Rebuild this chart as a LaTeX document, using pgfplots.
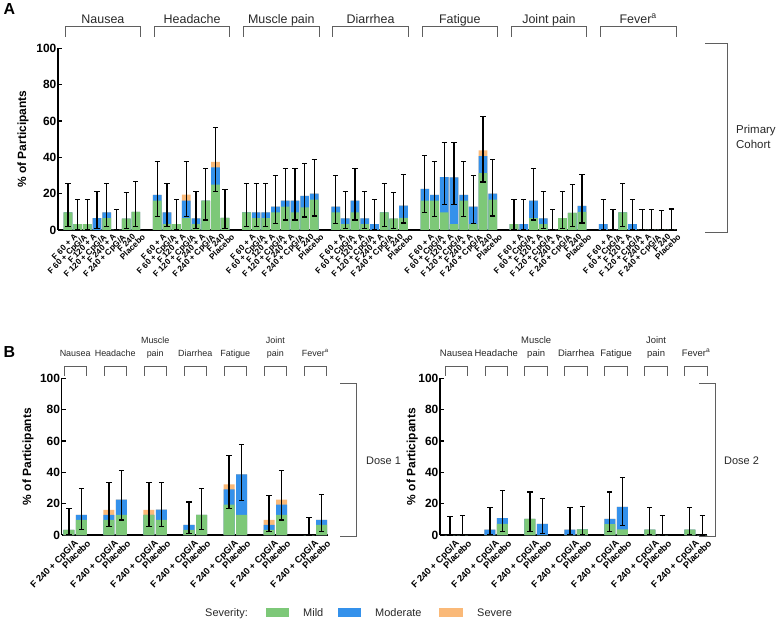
\documentclass[border=0pt]{standalone}
\usepackage{fontspec}
\setmainfont{Liberation Sans}
\usepackage{pgfplots}
\usepackage{pgfplotstable}
\pgfplotsset{compat=1.18}
\definecolor{mild}{RGB}{125,200,120}
\definecolor{modc}{RGB}{52,145,235}
\definecolor{sevc}{RGB}{250,185,120}
\definecolor{brk}{RGB}{95,95,95}
\definecolor{txt}{RGB}{40,40,40}

% x  mild moderate severe  CI-low CI-high
\pgfplotstableread{
x m d s lo hi
0 9.7 0 0 2.0 25.8
1 3.2 0 0 0.1 16.7
2 3.2 0 0 0.1 16.7
3 0 6.5 0 0.8 21.4
4 6.5 3.2 0 2.0 25.8
5 0 0 0 0 11.2
6 6.3 0 0 0.8 20.8
7 10.0 0 0 2.1 26.5
9.2 16.1 3.2 0 7.5 37.5
10.2 3.2 6.5 0 2.0 25.8
11.2 3.2 0 0 0.1 16.7
12.2 6.5 9.7 3.2 7.5 37.5
13.2 3.2 3.2 0 0.8 21.4
14.2 16.1 0 0 5.5 33.7
15.2 25.0 9.4 3.1 21.1 56.3
16.2 6.7 0 0 0.8 22.1
18.4 9.7 0 0 2.0 25.8
19.4 6.5 3.2 0 2.0 25.8
20.4 6.5 3.2 0 2.0 25.8
21.4 9.7 3.2 0 3.6 29.8
22.4 12.9 3.2 0 5.5 33.7
23.4 9.7 6.5 0 5.5 33.7
24.4 12.5 6.3 0 7.2 36.4
25.4 16.7 3.3 0 7.7 38.6
27.6 9.7 3.2 0 3.6 29.8
28.6 3.2 3.2 0 0.8 21.4
29.6 9.7 6.5 0 5.5 33.7
30.6 3.2 3.2 0 0.8 21.4
31.6 0 3.2 0 0.1 16.7
32.6 9.7 0 0 2.0 25.8
33.6 6.3 0 0 0.8 20.8
34.6 6.7 6.7 0 3.8 30.7
36.8 16.1 6.5 0 9.6 41.1
37.8 16.1 3.2 0 7.5 37.5
38.8 9.7 19.4 0 14.2 48.0
39.8 3.2 25.8 0 14.2 48.0
40.8 16.1 3.2 0 7.5 37.5
41.8 3.2 9.7 0 3.6 29.8
42.8 31.3 9.4 3.1 26.4 62.3
43.8 16.7 3.3 0 7.7 38.6
46.0 3.2 0 0 0.1 16.7
47.0 0 3.2 0 0.1 16.7
48.0 6.5 9.7 0 5.5 33.7
49.0 3.2 3.2 0 0.8 21.4
50.0 0 0 0 0 11.2
51.0 6.5 0 0 0.8 21.4
52.0 9.4 0 0 2.0 25.0
53.0 10.0 3.3 0 3.8 30.7
55.2 0 3.2 0 0.1 16.7
56.2 0 0 0 0 11.2
57.2 9.7 0 0 2.0 25.8
58.2 0 3.2 0 0.1 16.7
59.2 0 0 0 0 11.2
60.2 0 0 0 0 11.2
61.2 0 0 0 0 10.9
62.2 0 0 0 0 11.6
}\tabA

\pgfplotstableread{
x m d s lo hi
0 3.2 0 0 0.1 16.7
1 9.7 3.2 0 3.6 29.8
3.2 9.7 3.2 3.2 5.5 33.7
4.2 12.9 9.7 0 9.6 41.1
6.4 12.9 0 3.2 5.5 33.7
7.4 9.7 6.5 0 5.5 33.7
9.6 3.2 3.2 0 0.8 21.0
10.6 12.9 0 0 3.6 29.8
12.8 19.4 9.7 3.2 16.7 50.5
13.8 12.9 25.8 0 21.8 57.8
16.0 3.2 3.2 3.2 2.0 25.3
17.0 12.9 6.5 3.2 9.6 41.1
19.2 0 0 0 0 11.2
20.2 6.5 3.2 0 2.0 25.8
}\tabB

\pgfplotstableread{
x m d s lo hi
0 0 0 0 0 11.9
1 0 0 0 0 12.3
3.2 0 3.4 0 0.1 17.8
4.2 7.1 3.6 0 2.3 28.2
6.4 10.3 0 0 2.2 27.4
7.4 0 7.1 0 0.9 23.5
9.6 0 3.4 0 0.1 17.8
10.6 3.6 0 0 0.1 18.3
12.8 6.9 3.4 0 2.2 27.4
13.8 3.6 14.3 0 6.1 36.9
16.0 3.4 0 0 0.1 17.8
17.0 0 0 0 0 12.3
19.2 3.4 0 0 0.1 17.8
20.2 0 0 0 0 12.3
}\tabC

\pgfplotsset{
  sevbase/.style={
    scale only axis, anchor=south west, ybar, clip=false,
    ymin=0, ymax=100, ytick={0,20,40,60,80,100},
    enlargelimits=false,
    axis x line*=bottom, axis y line*=left,
    axis line style={line width=1.1pt, -, black},
    ytick style={line width=1.1pt, black},
    major tick length=4bp,
    xtick style={draw=none},
    /pgf/number format/assume math mode=true,
    yticklabel style={font=\bfseries\fontsize{12}{14}\selectfont, inner sep=1.5pt},
    ylabel={\% of Participants},
    ylabel style={font=\bfseries\fontsize{12}{14}\selectfont, anchor=center},
    xtick=data,
    xticklabel style={rotate=45, anchor=north east, inner sep=0.5pt, text=black},
  },
  mildbar/.style={fill=mild, draw=none, bar shift=0pt},
  modbar/.style={fill=modc, draw=none, bar shift=0pt},
  sevbar/.style={fill=sevc, draw=none, bar shift=0pt},
  errbar/.style={fill=none, draw opacity=0, bar shift=0pt,
    error bars/.cd, y dir=both, y explicit,
    error bar style={line width=1.2pt, draw=black, draw opacity=1},
    error mark options={line width=1.2pt, mark size=2.6bp, draw=black, draw opacity=1, rotate=90}},
}

\newcommand{\plotall}[1]{%
  \addplot[sevbar] table[x=x, y expr=\thisrow{m}+\thisrow{d}+\thisrow{s}] {#1};
  \addplot[modbar] table[x=x, y expr=\thisrow{m}+\thisrow{d}] {#1};
  \addplot[mildbar] table[x=x, y=m] {#1};
  \addplot[errbar] table[x=x, y expr=\thisrow{m}+\thisrow{d}+\thisrow{s},
     y error plus expr=\thisrow{hi}-\thisrow{m}-\thisrow{d}-\thisrow{s},
     y error minus expr=\thisrow{m}+\thisrow{d}+\thisrow{s}-\thisrow{lo}] {#1};
}

\begin{document}
\begin{tikzpicture}
\useasboundingbox (0bp,0bp) rectangle (777bp,620bp);

% ---------------- Panel A ----------------
\begin{axis}[sevbase,
  at={(58bp,390bp)}, width=619bp, height=181.7bp,
  xmin=-1.03, xmax=62.8, bar width=0.9,
  ylabel style={at={(axis description cs:0,0.5)}, yshift=35bp},
  xticklabel style={font=\bfseries\fontsize{8.3}{9}\selectfont, yshift=-3bp, xshift=5bp},
  xticklabels={F 60 + A, F 60 + CpG/A, F 120 + A, F 120 + CpG/A, F 240 + A, F 240 + CpG/A, F 240, Placebo,
                F 60 + A, F 60 + CpG/A, F 120 + A, F 120 + CpG/A, F 240 + A, F 240 + CpG/A, F 240, Placebo,
                F 60 + A, F 60 + CpG/A, F 120 + A, F 120 + CpG/A, F 240 + A, F 240 + CpG/A, F 240, Placebo,
                F 60 + A, F 60 + CpG/A, F 120 + A, F 120 + CpG/A, F 240 + A, F 240 + CpG/A, F 240, Placebo,
                F 60 + A, F 60 + CpG/A, F 120 + A, F 120 + CpG/A, F 240 + A, F 240 + CpG/A, F 240, Placebo,
                F 60 + A, F 60 + CpG/A, F 120 + A, F 120 + CpG/A, F 240 + A, F 240 + CpG/A, F 240, Placebo,
                F 60 + A, F 60 + CpG/A, F 120 + A, F 120 + CpG/A, F 240 + A, F 240 + CpG/A, F 240, Placebo},
]
\plotall{\tabA}
\begin{scope}[brk, line width=0.9pt]
\draw (axis cs:-0.3,106.4) -- (axis cs:-0.3,111.9) -- (axis cs:7.5,111.9) -- (axis cs:7.5,106.4);
\draw (axis cs:8.9,106.4) -- (axis cs:8.9,111.9) -- (axis cs:16.7,111.9) -- (axis cs:16.7,106.4);
\draw (axis cs:18.1,106.4) -- (axis cs:18.1,111.9) -- (axis cs:25.9,111.9) -- (axis cs:25.9,106.4);
\draw (axis cs:27.3,106.4) -- (axis cs:27.3,111.9) -- (axis cs:35.1,111.9) -- (axis cs:35.1,106.4);
\draw (axis cs:36.5,106.4) -- (axis cs:36.5,111.9) -- (axis cs:44.3,111.9) -- (axis cs:44.3,106.4);
\draw (axis cs:45.7,106.4) -- (axis cs:45.7,111.9) -- (axis cs:53.5,111.9) -- (axis cs:53.5,106.4);
\draw (axis cs:54.9,106.4) -- (axis cs:54.9,111.9) -- (axis cs:62.7,111.9) -- (axis cs:62.7,106.4);
\end{scope}
\begin{scope}[every node/.style={anchor=base, text=txt, font=\fontsize{12.5}{14}\selectfont}]
\node at (axis cs:3.6,113.8) {Nausea};
\node at (axis cs:12.8,113.8) {Headache};
\node at (axis cs:22.0,113.8) {Muscle pain};
\node at (axis cs:31.2,113.8) {Diarrhea};
\node at (axis cs:40.4,113.8) {Fatigue};
\node at (axis cs:49.6,113.8) {Joint pain};
\node at (axis cs:58.8,113.8) {Fever\textsuperscript{a}};
\end{scope}
\end{axis}

% ---------------- Panel B, Dose 1 ----------------
\begin{axis}[sevbase,
  at={(61.7bp,85bp)}, width=266.6bp, height=156.7bp,
  xmin=-0.58, xmax=20.74, bar width=0.88,
  ylabel style={at={(axis description cs:0,0.5)}, yshift=33.7bp},
  xticklabel style={font=\bfseries\fontsize{9.3}{10}\selectfont, yshift=-3bp, xshift=4bp},
  xticklabels={F 240 + CpG/A, Placebo, F 240 + CpG/A, Placebo, F 240 + CpG/A, Placebo, F 240 + CpG/A, Placebo,
               F 240 + CpG/A, Placebo, F 240 + CpG/A, Placebo, F 240 + CpG/A, Placebo},
]
\plotall{\tabB}
\begin{scope}[brk, line width=0.9pt]
\draw (axis cs:-0.4,101.5) -- (axis cs:-0.4,107.4) -- (axis cs:1.4,107.4) -- (axis cs:1.4,101.5);
\draw (axis cs:2.8,101.5) -- (axis cs:2.8,107.4) -- (axis cs:4.6,107.4) -- (axis cs:4.6,101.5);
\draw (axis cs:6.0,101.5) -- (axis cs:6.0,107.4) -- (axis cs:7.8,107.4) -- (axis cs:7.8,101.5);
\draw (axis cs:9.2,101.5) -- (axis cs:9.2,107.4) -- (axis cs:11.0,107.4) -- (axis cs:11.0,101.5);
\draw (axis cs:12.4,101.5) -- (axis cs:12.4,107.4) -- (axis cs:14.2,107.4) -- (axis cs:14.2,101.5);
\draw (axis cs:15.6,101.5) -- (axis cs:15.6,107.4) -- (axis cs:17.4,107.4) -- (axis cs:17.4,101.5);
\draw (axis cs:18.8,101.5) -- (axis cs:18.8,107.4) -- (axis cs:20.6,107.4) -- (axis cs:20.6,101.5);
\end{scope}
\begin{scope}[every node/.style={anchor=base, text=txt, font=\fontsize{9}{10}\selectfont}]
\node at (axis cs:0.5,113.8) {Nausea};
\node at (axis cs:3.7,113.8) {Headache};
\node at (axis cs:6.9,113.8) {pain};
\node at (axis cs:6.9,122.3) {Muscle};
\node at (axis cs:10.1,113.8) {Diarrhea};
\node at (axis cs:13.3,113.8) {Fatigue};
\node at (axis cs:16.5,113.8) {pain};
\node at (axis cs:16.5,122.3) {Joint};
\node at (axis cs:19.7,113.8) {Fever\textsuperscript{a}};
\end{scope}
\end{axis}

% ---------------- Panel B, Dose 2 ----------------
\begin{axis}[sevbase,
  at={(440bp,85bp)}, width=267.3bp, height=156.7bp,
  xmin=-0.8, xmax=20.6, bar width=0.88,
  ylabel style={at={(axis description cs:0,0.5)}, yshift=27.7bp},
  xticklabel style={font=\bfseries\fontsize{9.3}{10}\selectfont, yshift=-3bp, xshift=4bp},
  xticklabels={F 240 + CpG/A, Placebo, F 240 + CpG/A, Placebo, F 240 + CpG/A, Placebo, F 240 + CpG/A, Placebo,
               F 240 + CpG/A, Placebo, F 240 + CpG/A, Placebo, F 240 + CpG/A, Placebo},
]
\plotall{\tabC}
\begin{scope}[brk, line width=0.9pt]
\draw (axis cs:-0.4,101.5) -- (axis cs:-0.4,107.4) -- (axis cs:1.4,107.4) -- (axis cs:1.4,101.5);
\draw (axis cs:2.8,101.5) -- (axis cs:2.8,107.4) -- (axis cs:4.6,107.4) -- (axis cs:4.6,101.5);
\draw (axis cs:6.0,101.5) -- (axis cs:6.0,107.4) -- (axis cs:7.8,107.4) -- (axis cs:7.8,101.5);
\draw (axis cs:9.2,101.5) -- (axis cs:9.2,107.4) -- (axis cs:11.0,107.4) -- (axis cs:11.0,101.5);
\draw (axis cs:12.4,101.5) -- (axis cs:12.4,107.4) -- (axis cs:14.2,107.4) -- (axis cs:14.2,101.5);
\draw (axis cs:15.6,101.5) -- (axis cs:15.6,107.4) -- (axis cs:17.4,107.4) -- (axis cs:17.4,101.5);
\draw (axis cs:18.8,101.5) -- (axis cs:18.8,107.4) -- (axis cs:20.6,107.4) -- (axis cs:20.6,101.5);
\end{scope}
\begin{scope}[every node/.style={anchor=base, text=txt, font=\fontsize{9.5}{10}\selectfont}]
\node at (axis cs:0.5,113.8) {Nausea};
\node at (axis cs:3.7,113.8) {Headache};
\node at (axis cs:6.9,113.8) {pain};
\node at (axis cs:6.9,122.3) {Muscle};
\node at (axis cs:10.1,113.8) {Diarrhea};
\node at (axis cs:13.3,113.8) {Fatigue};
\node at (axis cs:16.5,113.8) {pain};
\node at (axis cs:16.5,122.3) {Joint};
\node at (axis cs:19.7,113.8) {Fever\textsuperscript{a}};
\end{scope}
\end{axis}

% ---------------- Annotations ----------------
\node[anchor=base west, font=\bfseries\fontsize{16}{18}\selectfont, inner sep=0pt] at (3.5bp,605bp) {A};
\node[anchor=base west, font=\bfseries\fontsize{16}{18}\selectfont, inner sep=0pt] at (3.5bp,262bp) {B};

\draw[brk, line width=0.9pt] (705bp,577bp) -- (727bp,577bp) -- (727bp,388bp) -- (705bp,388bp);
\node[anchor=base west, align=left, inner sep=0pt, text=txt, font=\fontsize{11.5}{15}\selectfont] at (736bp,486bp) {Primary};
\node[anchor=base west, align=left, inner sep=0pt, text=txt, font=\fontsize{11.5}{15}\selectfont] at (736bp,471bp) {Cohort};

\draw[brk, line width=0.9pt] (340bp,236.7bp) -- (356.7bp,236.7bp) -- (356.7bp,83.3bp) -- (340bp,83.3bp);
\node[anchor=base west, inner sep=0pt, text=txt, font=\fontsize{11}{13}\selectfont] at (366bp,155bp) {Dose 1};
\draw[brk, line width=0.9pt] (699bp,236.7bp) -- (715bp,236.7bp) -- (715bp,83.3bp) -- (699bp,83.3bp);
\node[anchor=base west, inner sep=0pt, text=txt, font=\fontsize{11}{13}\selectfont] at (724bp,155bp) {Dose 2};

% legend
\node[anchor=base west, inner sep=0pt, text=txt, font=\fontsize{11}{13}\selectfont] at (205bp,4bp) {Severity:};
\fill[mild] (266bp,3bp) rectangle (289bp,12bp);
\node[anchor=base west, inner sep=0pt, text=txt, font=\fontsize{11}{13}\selectfont] at (303bp,4bp) {Mild};
\fill[modc] (338bp,3bp) rectangle (361bp,12bp);
\node[anchor=base west, inner sep=0pt, text=txt, font=\fontsize{11}{13}\selectfont] at (375bp,4bp) {Moderate};
\fill[sevc] (439bp,3bp) rectangle (463bp,12bp);
\node[anchor=base west, inner sep=0pt, text=txt, font=\fontsize{11}{13}\selectfont] at (477bp,4bp) {Severe};
\end{tikzpicture}
\end{document}
